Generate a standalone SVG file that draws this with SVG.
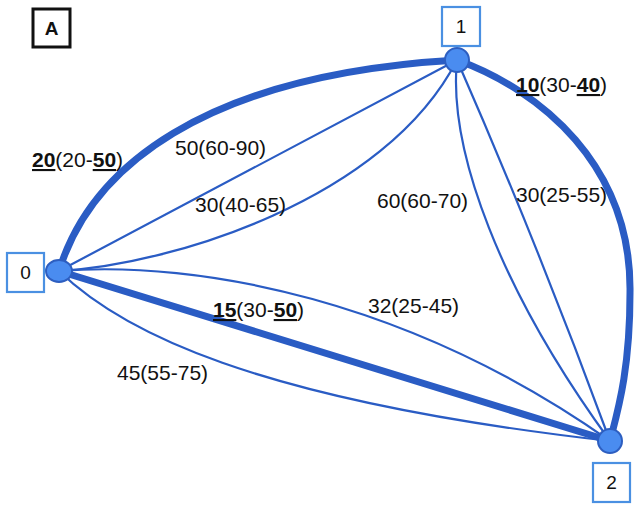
<svg xmlns="http://www.w3.org/2000/svg" width="640" height="511" viewBox="0 0 640 511">
<style>
.e{fill:none;stroke:#2A5CC4;stroke-linecap:round}
.thin{stroke-width:2.2}
.thick{stroke-width:7}
.node{fill:#4A8CF0;stroke:#2D5EC0;stroke-width:2}
.box{fill:#fff;stroke:#4A90E2;stroke-width:2.2}
.lbl{font-family:"Liberation Sans",Arial,sans-serif;font-size:21px;fill:#111}
.nid{font-family:"Liberation Sans",Arial,sans-serif;font-size:19px;fill:#111;text-anchor:middle}
.b{font-weight:bold;text-decoration:underline}
</style>
<rect width="640" height="511" fill="#fff"/>
<g id="connectors">
<path id="e01a" class="e thick" d="M59,271 C90,170 200,75 457,60"/>
<path id="e01b" class="e thin" d="M59,271 L457,60"/>
<path id="e01c" class="e thin" d="M59,271 C170,265 385,200 457,60"/>
<path id="e02a" class="e thick" d="M59,271 L610,441"/>
<path id="e02b" class="e thin" d="M59,271 C200,260 410,300 610,441"/>
<path id="e02c" class="e thin" d="M59,271 C120,330 250,400 610,441"/>
<path id="e12a" class="e thick" d="M457,60 C540,90 632,165 630,293 C630,370 618,410 610,441"/>
<path id="e12b" class="e thin" d="M457,60 C448,150 500,290 610,441"/>
<path id="e12c" class="e thin" d="M457,60 Q538,245 610,441"/>
</g>
<g id="edge-labels">
<text class="lbl" x="32" y="167"><tspan class="b">20</tspan>(20-<tspan class="b">50</tspan>)</text>
<text class="lbl" x="175" y="155">50(60-90)</text>
<text class="lbl" x="195" y="212">30(40-65)</text>
<text class="lbl" x="377" y="208">60(60-70)</text>
<text class="lbl" x="516" y="202">30(25-55)</text>
<text class="lbl" x="516" y="92"><tspan class="b">10</tspan>(30-<tspan class="b">40</tspan>)</text>
<text class="lbl" x="213" y="317"><tspan class="b">15</tspan>(30-<tspan class="b">50</tspan>)</text>
<text class="lbl" x="368" y="313">32(25-45)</text>
<text class="lbl" x="117" y="380">45(55-75)</text>
</g>
<g id="node0">
<ellipse class="node" cx="59" cy="271" rx="13" ry="11"/>
<rect class="box" x="7" y="253" width="37" height="39"/>
<text class="nid" x="25.5" y="279">0</text>
</g>
<g id="node1">
<circle class="node" cx="457" cy="60" r="12"/>
<rect class="box" x="442" y="7" width="38" height="39"/>
<text class="nid" x="461" y="33">1</text>
</g>
<g id="node2">
<circle class="node" cx="610" cy="441" r="12"/>
<rect class="box" x="593" y="463" width="37" height="39"/>
<text class="nid" x="611.5" y="489">2</text>
</g>
<g id="panel-label">
<rect x="33" y="9" width="37" height="38" fill="#fff" stroke="#111" stroke-width="3"/>
<text x="51.5" y="35" text-anchor="middle" style="font-family:'Liberation Sans',Arial,sans-serif;font-size:19px;font-weight:bold;fill:#111">A</text>
</g>
</svg>
